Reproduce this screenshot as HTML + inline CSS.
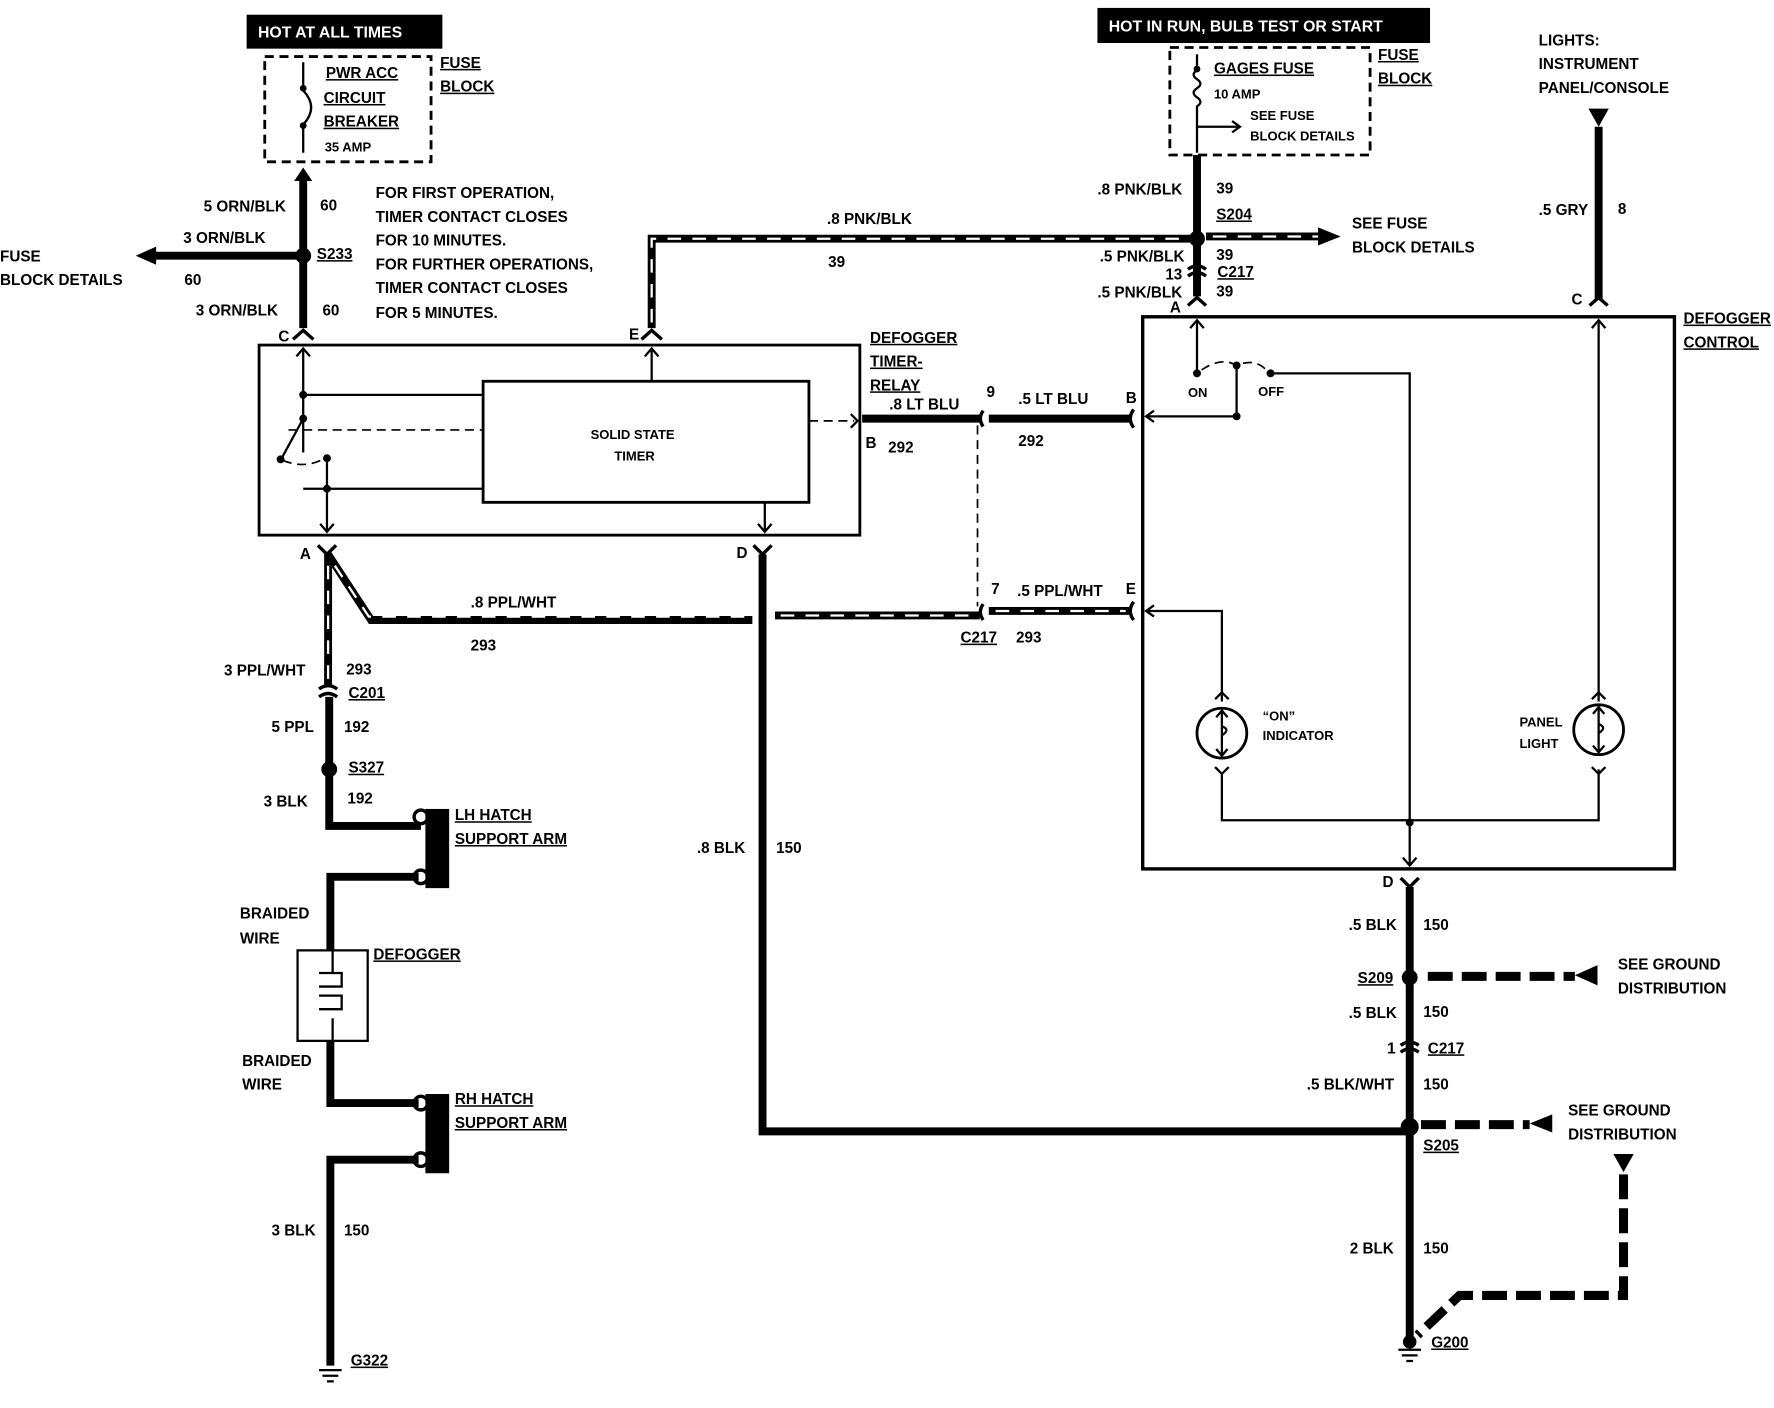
<!DOCTYPE html>
<html><head><meta charset="utf-8"><style>
html,body{margin:0;padding:0;background:#fff;}
svg{display:block;}
text{font-family:"Liberation Sans",sans-serif;font-weight:bold;font-size:13.5px;fill:#000;}
.s{font-size:11.5px;}
.w{stroke:#000;stroke-width:7;fill:none;}
.h{stroke:#fff;stroke-width:2;stroke-dasharray:12 10;fill:none;}
.t{stroke:#000;stroke-width:2;fill:none;}
.b{stroke:#000;stroke-width:3;fill:none;}
.d{stroke:#000;stroke-width:1.5;stroke-dasharray:8 5;fill:none;}
.dw{stroke:#000;stroke-width:8;stroke-dasharray:22 8;fill:none;}
.u{text-decoration:underline;}
</style></head><body>
<svg width="1774" height="1408" viewBox="0 0 1568 1244.5" xmlns="http://www.w3.org/2000/svg">
<!-- LEFT TOP -->
<rect x="218" y="13" width="173" height="30" fill="#000"/>
<text x="228" y="33" style="fill:#fff;font-size:14px">HOT AT ALL TIMES</text>
<rect x="234" y="50" width="147" height="93" fill="none" stroke="#000" stroke-width="2.5" stroke-dasharray="8 5"/>
<path class="t" d="M268 55 V75 M268 80 q14 15 0 30 M268 112 V135"/>
<circle cx="268" cy="78" r="3"/><circle cx="268" cy="111" r="3"/>
<text x="288" y="69" class="u">PWR ACC</text>
<text x="286" y="91" class="u">CIRCUIT</text>
<text x="286" y="112" class="u">BREAKER</text>
<text x="287" y="134" class="s">35 AMP</text>
<text x="389" y="60" class="u">FUSE</text>
<text x="389" y="81" class="u">BLOCK</text>
<path class="w" d="M268 158 V290"/>
<path d="M260 160 L268 148 L276 160 Z"/>
<text x="180" y="187">5 ORN/BLK</text><text x="283" y="186">60</text>
<circle cx="268" cy="226" r="7"/>
<text x="280" y="229" class="u">S233</text>
<path class="w" d="M268 226 H135"/>
<path d="M138 218 L120 226 L138 234 Z"/>
<text x="162" y="215">3 ORN/BLK</text><text x="163" y="252">60</text>
<text x="0" y="231">FUSE</text><text x="0" y="252">BLOCK DETAILS</text>
<text x="173" y="279">3 ORN/BLK</text><text x="285" y="279">60</text>
<path class="b" d="M259 300 L268 292 L277 300"/>
<text x="246" y="302">C</text>
<text x="332" y="175">FOR FIRST OPERATION,</text>
<text x="332" y="196">TIMER CONTACT CLOSES</text>
<text x="332" y="217">FOR 10 MINUTES.</text>
<text x="332" y="238">FOR FURTHER OPERATIONS,</text>
<text x="332" y="259">TIMER CONTACT CLOSES</text>
<text x="332" y="281">FOR 5 MINUTES.</text>

<!-- E wire -->
<path class="w" d="M576 290 V211 H1058"/>
<path class="h" d="M576 285 V211 H1050"/>
<path class="b" d="M567 300 L576 292 L585 300"/>
<text x="556" y="300">E</text>
<text x="731" y="198">.8 PNK/BLK</text><text x="732" y="236">39</text>

<!-- TIMER RELAY BOX -->
<rect x="229" y="305" width="531" height="168" fill="none" stroke="#000" stroke-width="2.5"/>
<rect x="427" y="337" width="288" height="107" fill="none" stroke="#000" stroke-width="2.5"/>
<text x="522" y="388" class="s">SOLID STATE</text>
<text x="543" y="407" class="s">TIMER</text>
<path class="t" d="M576 337 V308 M570 315 L576 308 L582 315"/>
<path class="t" d="M268 308 V400 M262 315 L268 308 L274 315"/>
<path class="t" d="M268 349 H427 M268 432 H427"/>
<circle cx="268" cy="349" r="3.5"/><circle cx="268" cy="370" r="3.5"/>
<path class="t" d="M268 370 L249 405"/><circle cx="248" cy="406" r="3.5"/>
<path class="d" d="M255 380 H427 M250 407 Q270 415 287 405"/>
<circle cx="289" cy="405" r="3.5"/><circle cx="289" cy="432" r="3.5"/>
<path class="t" d="M289 405 V470 M283 463 L289 470 L295 463"/>
<path class="t" d="M676 444 V470 M670 463 L676 470 L682 463"/>
<path class="d" d="M715 372 H755"/><path class="t" d="M752 366 L758 372 L752 378"/>

<text x="769" y="303" class="u">DEFOGGER</text>
<text x="769" y="324" class="u">TIMER-</text>
<text x="769" y="345" class="u">RELAY</text>
<text x="786" y="362">.8 LT BLU</text>
<text x="765" y="396">B</text><text x="785" y="400">292</text>
<path class="w" d="M762 370 H866"/>
<path class="b" d="M869 363 Q864 370 869 377"/>
<text x="872" y="351">9</text>
<path class="w" d="M874 370 H1000"/>
<path class="b" d="M1002 362 Q996 370 1002 378"/>
<text x="900" y="357">.5 LT BLU</text><text x="900" y="394">292</text>
<text x="995" y="356">B</text>
<path class="d" d="M864 376 V536"/>

<!-- A / PPL WHT -->
<path class="b" d="M281 482 L289 490 L297 482"/>
<text x="265" y="494">A</text>
<path class="w" d="M290 490 V605 M290 490 L328 548 H665"/>
<path class="h" d="M290 500 V600 M296 500 L326 545 H660"/>
<path class="w" d="M685 544 H866"/>
<path class="h" d="M690 544 H860"/>
<path class="b" d="M869 534 Q864 541 869 548"/>
<text x="876" y="525">7</text>
<path class="w" d="M874 540 H1000"/>
<path class="h" d="M880 540 H995"/>
<path class="b" d="M1002 532 Q996 540 1002 548"/>
<text x="995" y="525">E</text>
<text x="416" y="537">.8 PPL/WHT</text><text x="416" y="575">293</text>
<text x="849" y="568" class="u">C217</text>
<text x="899" y="527">.5 PPL/WHT</text><text x="898" y="568">293</text>

<!-- D wire -->
<path class="b" d="M666 482 L674 490 L682 482"/>
<text x="651" y="493">D</text>
<path class="w" d="M674 490 V1000 H1246"/>
<text x="616" y="754">.8 BLK</text><text x="686" y="754">150</text>

<!-- LEFT COLUMN -->
<text x="198" y="597">3 PPL/WHT</text><text x="306" y="596">293</text>
<path class="b" d="M282 609 Q290 603 298 609 M282 616 Q290 610 298 616"/>
<text x="308" y="617" class="u">C201</text>
<path class="w" d="M291 616 V730 H372"/>
<text x="240" y="647">5 PPL</text><text x="304" y="647">192</text>
<circle cx="291" cy="680" r="7"/>
<text x="308" y="683" class="u">S327</text>
<text x="233" y="713">3 BLK</text><text x="307" y="710">192</text>
<rect x="376" y="715" width="21" height="70"/>
<circle cx="372" cy="722" r="6" fill="none" stroke="#000" stroke-width="3"/>
<circle cx="372" cy="775" r="6" fill="none" stroke="#000" stroke-width="3"/>
<text x="402" y="725" class="u">LH HATCH</text>
<text x="402" y="746" class="u">SUPPORT ARM</text>
<path class="w" d="M370 775 H292 V840 M292 920 V975 H370"/>
<rect x="263" y="840" width="62" height="80" fill="none" stroke="#000" stroke-width="2"/>
<path class="t" d="M294 840 V860 M294 900 V920 M282 860 H302 V872 H282 M282 880 H302 V892 H282" />
<text x="330" y="848" class="u">DEFOGGER</text>
<text x="212" y="812">BRAIDED</text><text x="212" y="834">WIRE</text>
<text x="214" y="942">BRAIDED</text><text x="214" y="963">WIRE</text>
<rect x="376" y="967" width="21" height="70"/>
<circle cx="372" cy="975" r="6" fill="none" stroke="#000" stroke-width="3"/>
<circle cx="372" cy="1025" r="6" fill="none" stroke="#000" stroke-width="3"/>
<text x="402" y="976" class="u">RH HATCH</text>
<text x="402" y="997" class="u">SUPPORT ARM</text>
<path class="w" d="M370 1025 H292 V1207"/>
<path class="t" d="M282 1211 H302 M285 1216 H299 M289 1221 H295"/>
<text x="240" y="1092">3 BLK</text><text x="304" y="1092">150</text>
<text x="310" y="1207" class="u">G322</text>

<!-- RIGHT TOP -->
<rect x="970" y="7" width="294" height="31" fill="#000"/>
<text x="980" y="28" style="fill:#fff;font-size:14px">HOT IN RUN,  BULB TEST OR START</text>
<rect x="1034" y="42" width="177" height="95" fill="none" stroke="#000" stroke-width="2.5" stroke-dasharray="8 5"/>
<path class="t" d="M1058 48 V60 M1058 62 q-6 4 0 8 q6 4 0 8 q-6 4 0 8 q6 4 0 8 V135 M1058 112 H1095 M1089 107 L1096 112 L1089 117"/>
<circle cx="1058" cy="61" r="3"/>
<text x="1073" y="65" class="u">GAGES FUSE</text>
<text x="1073" y="87" class="s">10 AMP</text>
<text x="1105" y="106" class="s">SEE FUSE</text>
<text x="1105" y="124" class="s">BLOCK DETAILS</text>
<text x="1218" y="53" class="u">FUSE</text>
<text x="1218" y="74" class="u">BLOCK</text>
<path class="w" d="M1058 137 V262"/>
<text x="970" y="172">.8 PNK/BLK</text><text x="1075" y="171">39</text>
<circle cx="1058" cy="211" r="7"/>
<text x="1075" y="194" class="u">S204</text>
<path class="w" d="M1066 209 H1168"/>
<path class="h" d="M1072 209 H1165"/>
<path d="M1165 201 L1185 209 L1165 217 Z"/>
<text x="1195" y="202">SEE FUSE</text><text x="1195" y="223">BLOCK DETAILS</text>
<text x="972" y="231">.5 PNK/BLK</text><text x="1075" y="230">39</text>
<path class="b" d="M1050 238 Q1058 232 1066 238 M1050 244 Q1058 238 1066 244"/>
<text x="1030" y="247">13</text>
<text x="1076" y="245" class="u">C217</text>
<text x="970" y="263">.5 PNK/BLK</text><text x="1075" y="262">39</text>
<path class="b" d="M1050 270 L1058 263 L1066 270"/>
<text x="1034" y="276">A</text>

<!-- DEFOGGER CONTROL -->
<rect x="1010" y="280" width="470" height="488" fill="none" stroke="#000" stroke-width="3"/>
<text x="1488" y="286" class="u">DEFOGGER</text>
<text x="1488" y="307" class="u">CONTROL</text>
<text x="1360" y="40">LIGHTS:</text>
<text x="1360" y="61">INSTRUMENT</text>
<text x="1360" y="82">PANEL/CONSOLE</text>
<path d="M1404 96 L1422 96 L1413 112 Z"/>
<path class="w" d="M1413 112 V265"/>
<text x="1360" y="190">.5 GRY</text><text x="1430" y="189">8</text>
<path class="b" d="M1405 270 L1413 263 L1421 270"/>
<text x="1389" y="269">C</text>
<path class="t" d="M1058 283 V330 M1052 290 L1058 283 L1064 290"/>
<circle cx="1058" cy="330" r="3.5"/>
<text x="1050" y="351" class="s">ON</text>
<text x="1112" y="350" class="s">OFF</text>
<circle cx="1093" cy="323" r="3.5"/><circle cx="1123" cy="330" r="3.5"/>
<path class="d" d="M1062 327 Q1080 315 1093 323 Q1110 316 1120 328"/>
<path class="t" d="M1093 323 V368 H1014 M1020 363 L1013 368 L1020 373 M1123 330 H1246 V765 M1240 758 L1246 765 L1252 758"/>
<circle cx="1093" cy="368" r="3.5"/>
<path class="t" d="M1014 540 H1080 V620 M1020 535 L1013 540 L1020 545 M1074 618 L1080 612 L1086 618"/>
<circle cx="1080" cy="648" r="22" fill="none" stroke="#000" stroke-width="2.5"/>
<path class="t" d="M1080 628 V668 M1075 634 L1080 628 L1085 634 M1075 662 L1080 668 L1085 662 M1080 642 q8 3 0 8"/>
<path class="t" d="M1074 678 L1080 684 L1086 678 M1080 684 V725 H1413 V680 M1407 678 L1413 684 L1419 678"/>
<circle cx="1246" cy="727" r="3.5"/>
<text x="1116" y="637" class="s">“ON”</text>
<text x="1116" y="654" class="s">INDICATOR</text>
<path class="t" d="M1413 283 V620 M1407 290 L1413 283 L1419 290 M1407 618 L1413 612 L1419 618"/>
<circle cx="1413" cy="645" r="22" fill="none" stroke="#000" stroke-width="2.5"/>
<path class="t" d="M1413 625 V665 M1408 631 L1413 625 L1418 631 M1408 659 L1413 665 L1418 659 M1413 640 q8 3 0 8"/>
<text x="1343" y="642" class="s">PANEL</text>
<text x="1343" y="661" class="s">LIGHT</text>

<!-- BOTTOM RIGHT -->
<path class="b" d="M1238 776 L1246 784 L1254 776"/>
<text x="1222" y="784">D</text>
<path class="w" d="M1246 784 V1183"/>
<text x="1192" y="822">.5 BLK</text><text x="1258" y="822">150</text>
<circle cx="1246" cy="864" r="7"/>
<text x="1200" y="869" class="u">S209</text>
<path class="dw" d="M1262 863 H1392"/>
<path d="M1412 853 L1392 862 L1412 871 Z"/>
<text x="1430" y="857">SEE GROUND</text><text x="1430" y="878">DISTRIBUTION</text>
<text x="1192" y="900">.5 BLK</text><text x="1258" y="899">150</text>
<path class="b" d="M1238 924 Q1246 918 1254 924 M1238 930 Q1246 924 1254 930"/>
<text x="1226" y="931">1</text>
<text x="1262" y="931" class="u">C217</text>
<text x="1155" y="963">.5 BLK/WHT</text><text x="1258" y="963">150</text>
<circle cx="1246" cy="996" r="8"/>
<path class="dw" d="M1256 994 H1352"/>
<path d="M1372 985 L1352 993 L1372 1001 Z"/>
<text x="1386" y="986">SEE GROUND</text><text x="1386" y="1007">DISTRIBUTION</text>
<text x="1258" y="1017" class="u">S205</text>
<path d="M1426 1020 L1444 1020 L1435 1036 Z"/>
<path class="dw" d="M1435 1038 V1145 H1290 L1253 1180"/>
<text x="1193" y="1108">2 BLK</text><text x="1258" y="1108">150</text>
<circle cx="1246" cy="1186" r="6"/>
<path class="t" d="M1236 1193 H1256 M1239 1198 H1253 M1243 1203 H1249"/>
<text x="1265" y="1191" class="u">G200</text>
</svg>
</body></html>
